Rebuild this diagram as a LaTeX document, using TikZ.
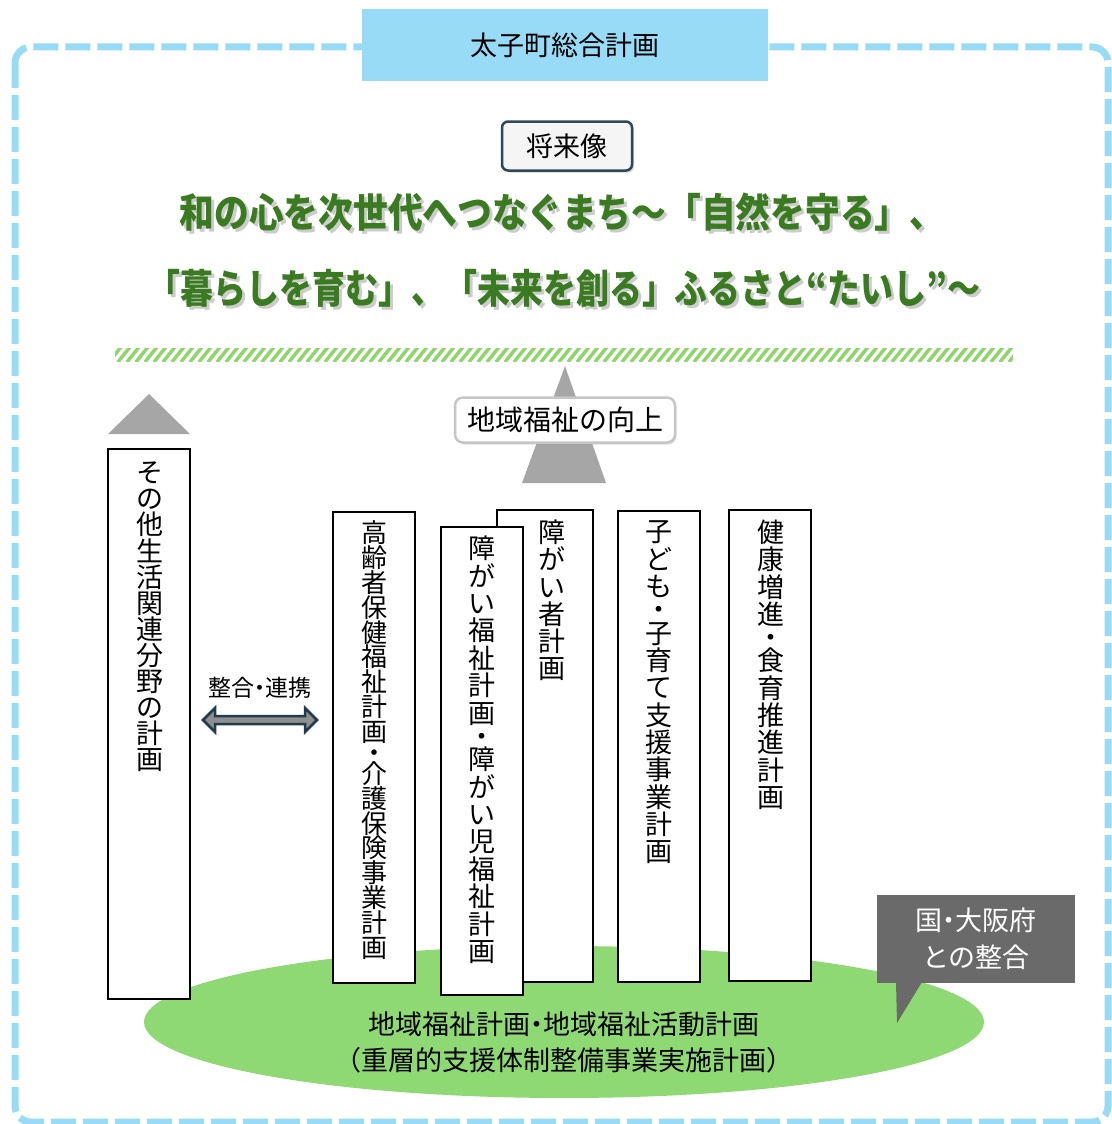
\documentclass[tikz,border=0pt]{standalone}
\usepackage{fontspec}
\usepackage{graphicx}
\setmainfont{Noto Sans CJK JP}
\usetikzlibrary{shapes.geometric,shadows}
\definecolor{frameblue}{HTML}{97DBF7}
\definecolor{slogan}{RGB}{58,122,32}
\definecolor{hatchgreen}{HTML}{8ED66B}
\definecolor{ellgreen}{HTML}{8ED973}
\definecolor{trigray}{HTML}{A6A6A6}
\definecolor{callgray}{HTML}{6A6A6A}
\definecolor{navy}{HTML}{1F3B4D}
\definecolor{boxedge}{HTML}{2F4858}
\definecolor{arrowfill}{HTML}{8E8E8E}

\makeatletter
\def\vt@end{\vt@end}
\def\vt@dot{・}
\def\vt@item#1{\def\vt@tmp{#1}%
  \ifx\vt@tmp\vt@dot
    \vskip-0.15\baselineskip\hbox to 1em{\hss#1\hss}\vskip-0.15\baselineskip
  \else
    \hbox to 1em{\hss#1\hss}%
  \fi}
\def\vt@loop#1{\ifx#1\vt@end\else\vt@item{#1}\expandafter\vt@loop\fi}
\newcommand\vtext[2]{\vbox{\baselineskip=#1\lineskip=0pt\lineskiplimit=-100pt\vt@loop#2\vt@end}}
\makeatother
\newcommand\hdot{\makebox[0.5em]{・}}
\newcommand\shadowed[2]{\rlap{\raisebox{-3pt}{\kern3pt\textcolor{gray!40}{\resizebox{#1}{\height}{#2}}}}\resizebox{#1}{\height}{#2}}

\begin{document}
\begin{tikzpicture}[x=1pt,y=-1pt,
  every node/.style={inner sep=0pt, outer sep=0pt},
  framebox/.style={draw=frameblue, line width=7pt, dash pattern=on 25pt off 7pt, rounded corners=16pt},
  planbox/.style={draw=black, line width=1.3pt, fill=white, minimum width=82pt},
  vlabel/.style={anchor=north, font=\fontsize{27}{27}\selectfont},
  uptri/.style={fill=trigray},
  slogantext/.style={font=\fontsize{40}{40}\selectfont\bfseries, text=slogan},
  hatchline/.style={draw=hatchgreen, line width=3.5pt},
]
\useasboundingbox (0,0) rectangle (1111,1124);

% outer frame and title
\draw[framebox] (15,47) rectangle (1108,1122);
\node[fill=frameblue, minimum width=406pt, minimum height=72pt,
      font=\fontsize{27}{27}\selectfont] (title) at (565,45) {太子町総合計画};

% vision label
\node[draw=boxedge, line width=2.5pt, rounded corners=6pt, fill=gray!8,
      minimum width=130pt, minimum height=49pt,
      drop shadow={shadow xshift=2pt, shadow yshift=-2pt, opacity=0.35},
      font=\fontsize{27}{27}\selectfont] (vision) at (567,146) {将来像};

% slogan
\node[slogantext] (slogan1) at (562,214) {\shadowed{765pt}{和の心を次世代へつなぐまち～「自然を守る」、}};
\node[slogantext] (slogan2) at (564,290) {\shadowed{832pt}{「暮らしを育む」、「未来を創る」ふるさと“たいし”～}};

% hatched bar
\begin{scope}
  \clip (115,348) rectangle (1013,361);
  \foreach \x in {100,109,...,1020} \draw[hatchline] (\x,362) -- (\x+12,347);
\end{scope}

% base ellipse
\node[ellipse, fill=ellgreen, minimum width=840pt, minimum height=152pt] (base) at (564,1022) {};

% upward triangles
\fill[uptri] (149,394) -- (190,434) -- (108,434) -- cycle;
\fill[uptri] (565,366) -- (606,483) -- (522,483) -- cycle;

% goal label
\node[draw=gray!45, line width=2.5pt, rounded corners=8pt, fill=white,
      minimum width=220pt, minimum height=45pt,
      drop shadow={shadow xshift=1.5pt, shadow yshift=-2pt, opacity=0.25},
      font=\fontsize{28}{28}\selectfont] (goal) at (565,420) {地域福祉の向上};

% plan boxes
\node[planbox, minimum height=550pt] (other) at (149,724) {};
\node[vlabel] (otherT) at (150,462) {\vtext{26.1pt}{その他生活関連分野の計画}};

\node[planbox, minimum height=471pt] (elder) at (374,747.5) {};
\node[vlabel, font=\fontsize{26}{26}\selectfont] (elderT) at (374,521) {\vtext{24.8pt}{高齢者保健福祉計画・介護保険事業計画}};

\node[planbox, minimum width=96pt, minimum height=472pt] (disab) at (545,746) {};
\node[vlabel] (disabT) at (552,520) {\vtext{27.2pt}{障がい者計画}};

\node[planbox, minimum height=468pt] (disabw) at (482,761) {};
\node[vlabel] (disabwT) at (482,536) {\vtext{27.4pt}{障がい福祉計画・障がい児福祉計画}};

\node[planbox, minimum height=471pt] (child) at (659,746.5) {};
\node[vlabel] (childT) at (659,521) {\vtext{27.35pt}{子ども・子育て支援事業計画}};

\node[planbox, minimum height=471pt] (health) at (770,745.5) {};
\node[vlabel] (healthT) at (771,520) {\vtext{27.3pt}{健康増進・食育推進計画}};

% link arrow
\node[font=\fontsize{23}{23}\selectfont] (linkT) at (260,688) {整合\hdot 連携};
\coordinate (linkL) at (203,720);
\coordinate (linkR) at (317,720);
\draw[navy, line width=2.5pt, fill=arrowfill, line join=miter]
  (linkL) -- ++(12,-12) -- ++(0,8) -- ++(90,0) -- ++(0,-8) -- (linkR)
  -- ++(-12,12) -- ++(0,-8) -- ++(-90,0) -- ++(0,8) -- cycle;

% base text
\node[align=center, font=\fontsize{27}{36}\selectfont] (baseT) at (564,1042)
  {地域福祉計画\hdot 地域福祉活動計画\\（重層的支援体制整備事業実施計画）};

% callout
\fill[callgray] (896,982) -- (897,1023) -- (922,982) -- cycle;
\node[fill=callgray, minimum width=198pt, minimum height=88pt, text=white,
      align=center, font=\fontsize{27}{37}\selectfont] (callout) at (976,939)
  {国\hdot 大阪府\\との整合};
\end{tikzpicture}
\end{document}
